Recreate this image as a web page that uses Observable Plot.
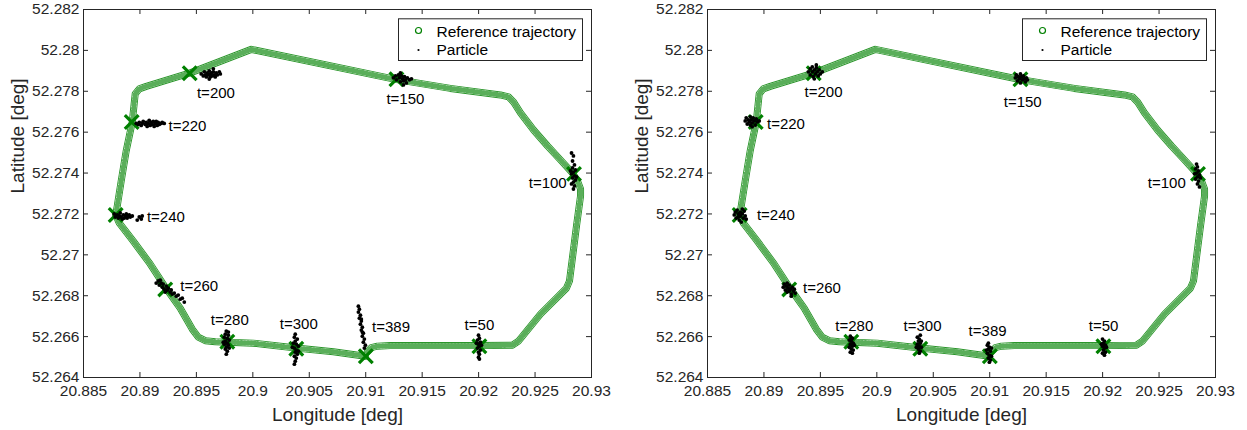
<!DOCTYPE html>
<html><head><meta charset="utf-8">
<script src="https://cdn.jsdelivr.net/npm/d3@7"></script>
<script src="https://cdn.jsdelivr.net/npm/@observablehq/plot@0.6"></script>
<style>
html,body{margin:0;padding:0;background:#fff;}
#wrap{display:flex;width:1247px;height:430px;overflow:hidden;}
</style></head><body><div id="wrap"></div>
<script>
// Reference trajectory (lon, lat)
const trajLon = [20.91015,20.91050,20.91103,20.91218,20.92007,20.92300,20.92353,20.92548,20.92778,20.92805,20.92867,20.92885,20.92903,20.92903,20.92876,20.92832,20.92734,20.92610,20.92486,20.92371,20.92309,20.92264,20.92193,20.91750,20.91263,20.89986,20.89446,20.89056,20.88994,20.88958,20.88932,20.88878,20.88834,20.88799,20.88785,20.88816,20.88941,20.89091,20.89224,20.89357,20.89463,20.89517,20.89579,20.89667,20.89774,20.90004,20.90385,20.90713,20.90997];
const trajLat = [52.26526,52.26546,52.26553,52.26556,52.26556,52.26558,52.26578,52.26710,52.26837,52.26872,52.27141,52.27214,52.27288,52.27322,52.27361,52.27400,52.27459,52.27533,52.27611,52.27694,52.27748,52.27773,52.27782,52.27814,52.27858,52.28005,52.27890,52.27824,52.27812,52.27787,52.27650,52.27508,52.27361,52.27239,52.27195,52.27156,52.27067,52.26955,52.26842,52.26739,52.26637,52.26597,52.26580,52.26575,52.26573,52.26568,52.26544,52.26526,52.26504];

// Marked time instants (green crosses) and their positions
const markTimes = [50,100,150,200,220,240,260,280,300,389];
const markLon = [20.92007,20.92845,20.91272,20.89441,20.88927,20.88785,20.89224,20.89774,20.90385,20.91001];
const markLat = [52.26553,52.27396,52.27859,52.27888,52.27650,52.27195,52.26831,52.26575,52.26541,52.26504];

// Label anchor positions (data coords) per panel
const labelLonA = [20.91876,20.92444,20.91183,20.89505,20.89253,20.89062,20.89357,20.89628,20.90239,20.91056];
const labelLatA = [52.26632,52.27329,52.27737,52.27769,52.27606,52.27160,52.26823,52.26656,52.26635,52.26622];
const labelLonB = [20.91877,20.92400,20.91124,20.89360,20.89027,20.88938,20.89346,20.89632,20.90237,20.90813];
const labelLatB = [52.26627,52.27328,52.27724,52.27773,52.27614,52.27168,52.26811,52.26627,52.26627,52.26602];

// Particles, left panel
const particlesLeft = [
[20.89543,52.27885],[20.89561,52.27875],[20.89570,52.27895],[20.89579,52.27880],[20.89588,52.27870],[20.89596,52.27890],[20.89605,52.27880],[20.89614,52.27900],[20.89623,52.27885],[20.89623,52.27870],[20.89632,52.27890],[20.89641,52.27875],[20.89650,52.27895],[20.89658,52.27880],[20.89667,52.27870],[20.89676,52.27890],[20.89685,52.27880],[20.89703,52.27895],[20.89712,52.27885],[20.89614,52.27860],[20.89650,52.27910],
[20.88967,52.27643],[20.88985,52.27638],[20.88994,52.27648],[20.89011,52.27633],[20.89020,52.27643],[20.89029,52.27653],[20.89047,52.27638],[20.89056,52.27648],[20.89064,52.27628],[20.89073,52.27643],[20.89082,52.27658],[20.89091,52.27633],[20.89100,52.27648],[20.89109,52.27638],[20.89118,52.27653],[20.89126,52.27628],[20.89135,52.27643],[20.89144,52.27653],[20.89153,52.27633],[20.89162,52.27648],[20.89171,52.27638],[20.89188,52.27643],[20.89197,52.27648],[20.89215,52.27643],
[20.88772,52.27200],[20.88781,52.27185],[20.88799,52.27195],[20.88808,52.27180],[20.88817,52.27190],[20.88825,52.27205],[20.88834,52.27185],[20.88843,52.27175],[20.88852,52.27195],[20.88861,52.27180],[20.88870,52.27190],[20.88879,52.27200],[20.88887,52.27180],[20.88896,52.27190],[20.88905,52.27195],[20.88914,52.27185],[20.88932,52.27190],[20.88994,52.27185],[20.89012,52.27175],[20.89020,52.27190],[20.88976,52.27170],
[20.89144,52.26862],[20.89162,52.26872],[20.89171,52.26852],[20.89189,52.26862],[20.89198,52.26842],[20.89206,52.26857],[20.89215,52.26832],[20.89233,52.26847],[20.89242,52.26828],[20.89251,52.26837],[20.89268,52.26818],[20.89277,52.26828],[20.89286,52.26808],[20.89304,52.26813],[20.89322,52.26798],[20.89339,52.26803],[20.89357,52.26783],[20.89375,52.26788],[20.89393,52.26769],[20.89180,52.26876],[20.89224,52.26818],
[20.89765,52.26627],[20.89756,52.26612],[20.89783,52.26607],[20.89747,52.26597],[20.89774,52.26592],[20.89791,52.26583],[20.89756,52.26578],[20.89774,52.26568],[20.89747,52.26563],[20.89783,52.26558],[20.89765,52.26548],[20.89791,52.26544],[20.89756,52.26539],[20.89774,52.26529],[20.89765,52.26514],[20.89783,52.26622],[20.89738,52.26573],
[20.90376,52.26612],[20.90368,52.26597],[20.90394,52.26588],[20.90376,52.26578],[20.90359,52.26568],[20.90385,52.26563],[20.90403,52.26553],[20.90368,52.26544],[20.90385,52.26534],[20.90376,52.26524],[20.90394,52.26514],[20.90368,52.26504],[20.90385,52.26495],[20.90376,52.26480],[20.90368,52.26465],[20.90403,52.26529],[20.90350,52.26548],
[20.90935,52.26749],[20.90944,52.26734],[20.90935,52.26720],[20.90953,52.26705],[20.90944,52.26690],[20.90961,52.26676],[20.90953,52.26661],[20.90970,52.26646],[20.90961,52.26632],[20.90979,52.26617],[20.90970,52.26602],[20.90988,52.26588],[20.90979,52.26573],[20.90997,52.26558],[20.90988,52.26544],[20.90961,52.26686],[20.90970,52.26622],
[20.91999,52.26607],[20.92007,52.26592],[20.91990,52.26583],[20.92016,52.26573],[20.91999,52.26563],[20.92007,52.26553],[20.91990,52.26544],[20.92016,52.26534],[20.91999,52.26524],[20.92007,52.26514],[20.91999,52.26499],[20.92007,52.26490],[20.92025,52.26558],[20.91981,52.26568],
[20.92823,52.27498],[20.92840,52.27484],[20.92832,52.27459],[20.92849,52.27440],[20.92832,52.27425],[20.92858,52.27415],[20.92840,52.27405],[20.92823,52.27396],[20.92849,52.27386],[20.92832,52.27376],[20.92858,52.27366],[20.92840,52.27356],[20.92823,52.27347],[20.92849,52.27337],[20.92840,52.27322],[20.92814,52.27410],[20.92867,52.27381],
[20.91245,52.27866],[20.91263,52.27875],[20.91272,52.27856],[20.91289,52.27880],[20.91298,52.27866],[20.91307,52.27846],[20.91316,52.27875],[20.91325,52.27861],[20.91334,52.27851],[20.91343,52.27871],[20.91351,52.27856],[20.91360,52.27841],[20.91369,52.27866],[20.91387,52.27856],[20.91405,52.27861],[20.91307,52.27890],[20.91334,52.27831]
];

// Particles, right panel
const particlesRight = [
[20.89393,52.27895],[20.89410,52.27910],[20.89410,52.27880],[20.89428,52.27919],[20.89428,52.27895],[20.89437,52.27871],[20.89446,52.27905],[20.89455,52.27885],[20.89464,52.27915],[20.89472,52.27895],[20.89481,52.27875],[20.89490,52.27905],[20.89499,52.27885],[20.89517,52.27895],[20.89446,52.27861],[20.89464,52.27929],
[20.88834,52.27655],[20.88843,52.27670],[20.88852,52.27640],[20.88861,52.27660],[20.88870,52.27650],[20.88879,52.27675],[20.88879,52.27635],[20.88887,52.27660],[20.88896,52.27645],[20.88905,52.27670],[20.88914,52.27655],[20.88923,52.27635],[20.88932,52.27665],[20.88941,52.27650],[20.88958,52.27655],[20.88896,52.27626],
[20.88737,52.27195],[20.88746,52.27209],[20.88754,52.27180],[20.88763,52.27219],[20.88772,52.27200],[20.88781,52.27170],[20.88790,52.27209],[20.88790,52.27190],[20.88799,52.27160],[20.88808,52.27200],[20.88816,52.27180],[20.88825,52.27214],[20.88834,52.27190],[20.88843,52.27175],[20.88772,52.27185],[20.88808,52.27224],
[20.89171,52.26842],[20.89180,52.26857],[20.89189,52.26828],[20.89198,52.26847],[20.89206,52.26818],[20.89215,52.26837],[20.89224,52.26852],[20.89224,52.26823],[20.89233,52.26832],[20.89242,52.26808],[20.89251,52.26842],[20.89260,52.26823],[20.89269,52.26832],[20.89277,52.26813],[20.89206,52.26862],[20.89242,52.26798],
[20.89765,52.26602],[20.89783,52.26592],[20.89756,52.26583],[20.89774,52.26578],[20.89791,52.26568],[20.89765,52.26563],[20.89783,52.26553],[20.89756,52.26548],[20.89774,52.26539],[20.89791,52.26534],[20.89765,52.26524],[20.89783,52.26519],[20.89800,52.26558],[20.89774,52.26592],
[20.90359,52.26597],[20.90376,52.26588],[20.90368,52.26578],[20.90385,52.26568],[20.90359,52.26563],[20.90376,52.26553],[20.90394,52.26548],[20.90368,52.26539],[20.90385,52.26529],[20.90376,52.26519],[20.90394,52.26578],[20.90350,52.26548],[20.90385,52.26607],
[20.90979,52.26558],[20.90997,52.26548],[20.90988,52.26539],[20.91006,52.26529],[20.90979,52.26519],[20.90997,52.26509],[20.91015,52.26504],[20.90988,52.26495],[20.91006,52.26485],[20.90997,52.26475],[20.90970,52.26534],[20.91015,52.26544],[20.90988,52.26568],
[20.91999,52.26588],[20.92016,52.26578],[20.92007,52.26568],[20.92025,52.26558],[20.91999,52.26553],[20.92016,52.26544],[20.92007,52.26534],[20.92025,52.26524],[20.91999,52.26519],[20.92016,52.26509],[20.92034,52.26548],[20.91990,52.26563],
[20.92832,52.27444],[20.92840,52.27430],[20.92823,52.27420],[20.92849,52.27410],[20.92832,52.27400],[20.92858,52.27391],[20.92840,52.27381],[20.92823,52.27371],[20.92849,52.27361],[20.92840,52.27347],[20.92858,52.27332],[20.92814,52.27396],[20.92867,52.27376],
[20.91227,52.27866],[20.91236,52.27880],[20.91245,52.27851],[20.91254,52.27871],[20.91263,52.27861],[20.91272,52.27885],[20.91272,52.27841],[20.91281,52.27871],[20.91289,52.27856],[20.91298,52.27875],[20.91307,52.27861],[20.91316,52.27846],[20.91325,52.27866],[20.91334,52.27856]
];

// Axis ticks and labels
const xTicks = [20.885,20.89,20.895,20.9,20.905,20.91,20.915,20.92,20.925,20.93];
const xTickLabels = ["20.885","20.89","20.895","20.9","20.905","20.91","20.915","20.92","20.925","20.93"];
const yTicks = [52.264,52.266,52.268,52.27,52.272,52.274,52.276,52.278,52.28,52.282];
const yTickLabels = ["52.264","52.266","52.268","52.27","52.272","52.274","52.276","52.278","52.28","52.282"];

const green = "#008000";
const ink = "#262626";
const traj = trajLon.map((lon, i) => ({lon, lat: trajLat[i]}));
const crosses = markTimes.map((t, i) => ({t, lon: markLon[i], lat: markLat[i]}));
const xLab = new Map(xTicks.map((v, i) => [v, xTickLabels[i]]));
const yLab = new Map(yTicks.map((v, i) => [v, yTickLabels[i]]));

function panel(particles, labLon, labLat, width, marginLeft) {
  const marginRight = 32, marginTop = 9, marginBottom = 53, height = 430;
  const innerW = width - marginLeft - marginRight;
  const innerH = height - marginTop - marginBottom;
  const parts = particles.map(([lon, lat]) => ({lon, lat}));
  const labels = markTimes.map((t, i) => ({text: "t=" + t, lon: labLon[i], lat: labLat[i]}));
  return Plot.plot({
    width, height, marginLeft, marginRight, marginTop, marginBottom,
    x: {domain: [20.885, 20.93]},
    y: {domain: [52.264, 52.282]},
    style: {fontFamily: "'Liberation Sans', Arial, Helvetica, sans-serif", fontSize: "15.5px", color: ink, background: "white", overflow: "visible"},
    marks: [
      Plot.line(traj, {x: "lon", y: "lat", stroke: "#2a952a", strokeWidth: 7, strokeLinejoin: "round", strokeLinecap: "round"}),
      Plot.line(traj, {x: "lon", y: "lat", stroke: "white", strokeWidth: 5.2, strokeLinejoin: "round", strokeLinecap: "round"}),
      Plot.line(traj, {x: "lon", y: "lat", stroke: "#5aae5a", strokeWidth: 5.2, strokeDasharray: "0.9,2.4", strokeLinejoin: "round"}),
      Plot.dot(crosses, {x: "lon", y: "lat", symbol: "times", r: 6.3, stroke: green, strokeWidth: 3.2}),
      Plot.dot(parts, {x: "lon", y: "lat", r: 1.9, fill: "black", stroke: null}),
      Plot.text(labels, {x: "lon", y: "lat", text: "text", textAnchor: "start", lineAnchor: "bottom", fontSize: 15, fill: "black"}),
      Plot.frame({stroke: ink}),
      Plot.ruleX(xTicks, {stroke: ink, insetTop: innerH - 5}),
      Plot.ruleX(xTicks, {stroke: ink, insetBottom: innerH - 5}),
      Plot.ruleY(yTicks, {stroke: ink, insetRight: innerW - 5}),
      Plot.ruleY(yTicks, {stroke: ink, insetLeft: innerW - 5}),
      Plot.axisX({ticks: xTicks, tickSize: 0, tickPadding: 7.5, tickFormat: d => xLab.get(d), label: null, fontSize: 15.5}),
      Plot.axisY({ticks: yTicks, tickSize: 0, tickPadding: 4, tickFormat: d => yLab.get(d), label: null, fontSize: 15.5}),
      Plot.text(["Longitude [deg]"], {x: null, y: null, frameAnchor: "bottom", dy: 43.5, lineAnchor: "bottom", fontSize: 19, fill: ink, text: d => d}),
      Plot.text(["Latitude [deg]"], {x: null, y: null, frameAnchor: "left", dx: -66, rotate: -90, fontSize: 19, fill: ink, text: d => d}),
      Plot.frame({fill: "white", stroke: ink, insetLeft: innerW - 9 - 184, insetRight: 9, insetTop: 9.3, insetBottom: innerH - 51}),
      Plot.dot([0], {x: null, y: null, frameAnchor: "top-right", dx: -173, dy: 21, r: 3, stroke: green, strokeWidth: 1.2, fill: "none"}),
      Plot.dot([0], {x: null, y: null, frameAnchor: "top-right", dx: -173, dy: 40.5, r: 1.1, fill: "black", stroke: null}),
      Plot.text(["Reference trajectory"], {x: null, y: null, frameAnchor: "top-right", dx: -155, dy: 27, textAnchor: "start", lineAnchor: "bottom", fontSize: 15.5, fill: "black", text: d => d}),
      Plot.text(["Particle"], {x: null, y: null, frameAnchor: "top-right", dx: -155, dy: 45.3, textAnchor: "start", lineAnchor: "bottom", fontSize: 15.5, fill: "black", text: d => d})
    ]
  });
}

const wrap = document.getElementById("wrap");
wrap.appendChild(panel(particlesLeft, labelLonA, labelLatA, 623, 83));
wrap.appendChild(panel(particlesRight, labelLonB, labelLatB, 624, 84));
</script>
</body></html>
